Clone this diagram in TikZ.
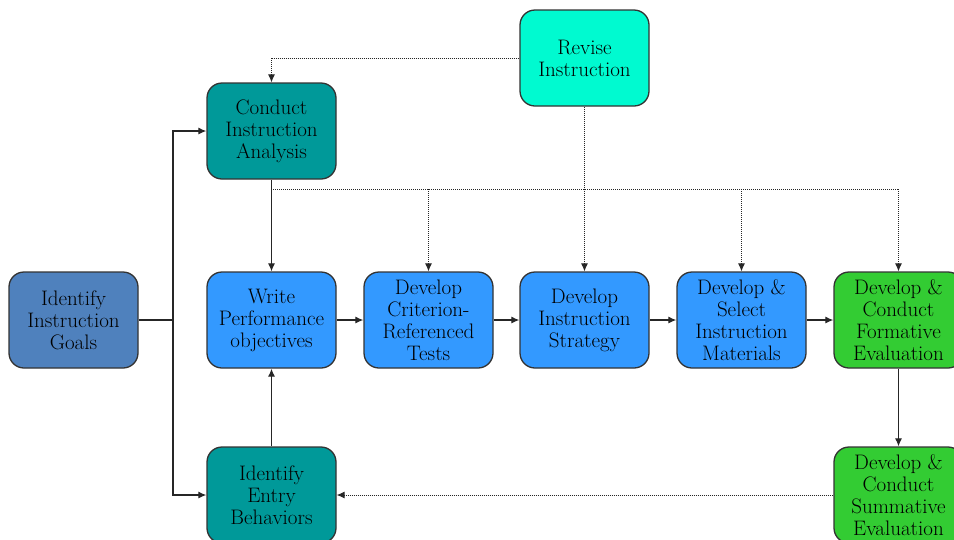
\documentclass[tikz,border=0pt]{standalone}
\usetikzlibrary{arrows.meta}
\definecolor{goalblue}{RGB}{79,129,189}
\definecolor{analysisteal}{RGB}{0,153,153}
\definecolor{reviseaqua}{RGB}{0,250,208}
\definecolor{stepblue}{RGB}{51,153,255}
\definecolor{evalgreen}{RGB}{51,204,51}
\begin{document}
\begin{tikzpicture}[x=1pt,y=-1pt,font=\fontsize{21}{22}\selectfont,
	box/.style={draw=black!80,line width=1.3pt,rounded corners=15pt,minimum width=129pt,minimum height=96pt,inner sep=0pt,align=center},
	flow/.style={-{Latex[length=8pt,width=7pt]},line width=1.2pt,black!85},
	back/.style={flow,line width=0.9pt,dash pattern=on 1pt off 1pt}]
	\useasboundingbox (0,0) rectangle (954,539);
	\clip (0,0) rectangle (954,539);
	\node[box,fill=goalblue] (goals) at (73.5,320) {Identify\\Instruction\\Goals};
	\node[box,fill=analysisteal] (conduct) at (271.5,131) {Conduct\\Instruction\\Analysis};
	\node[box,fill=analysisteal] (entry) at (271.5,495) {Identify\\Entry\\Behaviors};
	\node[box,fill=reviseaqua] (revise) at (584.5,58) {Revise\\Instruction};
	\foreach \n/\x/\t in {write/271.5/{Write\\Performance\\objectives},tests/428.5/{Develop\\Criterion-\\Referenced\\Tests},strategy/584.5/{Develop\\Instruction\\Strategy},materials/741.5/{Develop \&\\Select\\Instruction\\Materials}}
		\node[box,fill=stepblue] (\n) at (\x,320) {\t};
	\node[box,fill=evalgreen] (formative) at (898.5,320) {Develop \&\\Conduct\\Formative\\Evaluation};
	\node[box,fill=evalgreen] (summative) at (898.5,495) {Develop \&\\Conduct\\Summative\\Evaluation};
	% solid flow
	\coordinate (fork) at (173,320);
	\draw[line width=1.2pt,black!85] (goals.east) -- (fork);
	\draw[flow] (fork) |- (conduct.west);
	\draw[flow] (fork) |- (entry.west);
	\draw[flow] (conduct) -- (write);
	\draw[flow] (entry) -- (write);
	\foreach \a/\b in {write/tests,tests/strategy,strategy/materials,materials/formative}\draw[flow] (\a) -- (\b);
	\draw[flow] (formative) -- (summative);
	% feedback (dotted)
	\coordinate (split) at (273,189);
	\draw[back,-] (split) -- (formative.north |- split);
	\foreach \n in {tests,materials,formative}\draw[back] (\n.north |- split) -- (\n.north);
	\draw[back] (revise.south) -- (strategy.north);
	\draw[back] (revise.west) -| (conduct.north);
	\draw[back] (summative.west) -- (entry.east);
\end{tikzpicture}
\end{document}
